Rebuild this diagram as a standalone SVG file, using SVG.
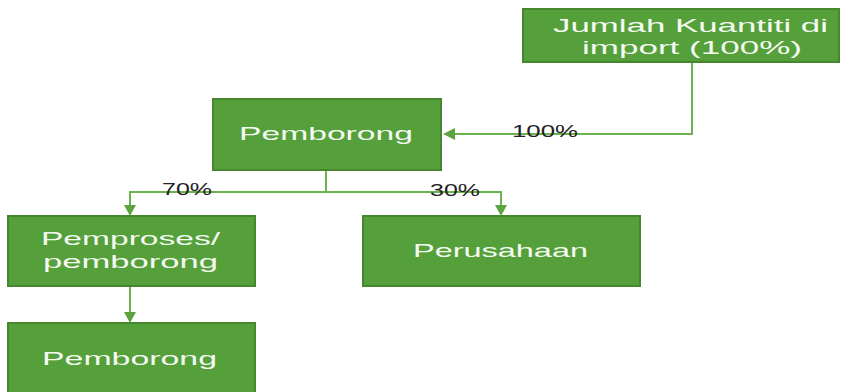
<svg xmlns="http://www.w3.org/2000/svg" width="852" height="392" viewBox="0 0 852 392">
<defs>
<style>
.box{fill:#55a03a;stroke:#46862e;stroke-width:2}
.t{font-family:"Liberation Sans",Arial,sans-serif;font-size:18.5px;fill:#f4f9f1}
.l{font-family:"Liberation Sans",Arial,sans-serif;font-size:16px;fill:#222}
.c{fill:none;stroke:#6cb24e;stroke-width:2}
</style>
</defs>
<rect width="852" height="392" fill="#ffffff"/>
<g id="connectors">
<polyline class="c" points="692,62 692,134 450,134"/>
<polyline class="c" points="326,170 326,192 130,192 130,208"/>
<polyline class="c" points="326,192 501,192 501,208"/>
<line class="c" x1="130" y1="286" x2="130" y2="314"/>
<g id="arrowheads" fill="#5da441">
<path d="M443,134 L455,128 L455,140 z"/>
<path d="M130,216 L124,205 L136,205 z"/>
<path d="M501,216 L495,205 L507,205 z"/>
<path d="M130,323 L124,312 L136,312 z"/>
</g>
</g>
<g id="labels">
<text class="l" x="512" y="137" textLength="66" lengthAdjust="spacingAndGlyphs">100%</text>
<text class="l" x="162" y="195" textLength="50" lengthAdjust="spacingAndGlyphs">70%</text>
<text class="l" x="430" y="196" textLength="50" lengthAdjust="spacingAndGlyphs">30%</text>
</g>
<g id="n-jumlah">
<rect class="box" x="523" y="9" width="316" height="53"/>
<text class="t" x="553" y="32" textLength="275" lengthAdjust="spacingAndGlyphs">Jumlah Kuantiti di</text>
<text class="t" x="582" y="54" textLength="220" lengthAdjust="spacingAndGlyphs">import (100%)</text>
</g>
<g id="n-pemborong1">
<rect class="box" x="213" y="99" width="228" height="71"/>
<text class="t" x="239" y="140" textLength="174" lengthAdjust="spacingAndGlyphs">Pemborong</text>
</g>
<g id="n-pemproses">
<rect class="box" x="8" y="216" width="247" height="70"/>
<text class="t" x="41" y="245" textLength="179" lengthAdjust="spacingAndGlyphs">Pemproses/</text>
<text class="t" x="43" y="268" textLength="175" lengthAdjust="spacingAndGlyphs">pemborong</text>
</g>
<g id="n-perusahaan">
<rect class="box" x="363" y="216" width="277" height="70"/>
<text class="t" x="413" y="257" textLength="175" lengthAdjust="spacingAndGlyphs">Perusahaan</text>
</g>
<g id="n-pemborong2">
<rect class="box" x="8" y="323" width="247" height="75"/>
<text class="t" x="42" y="365" textLength="175" lengthAdjust="spacingAndGlyphs">Pemborong</text>
</g>
</svg>
